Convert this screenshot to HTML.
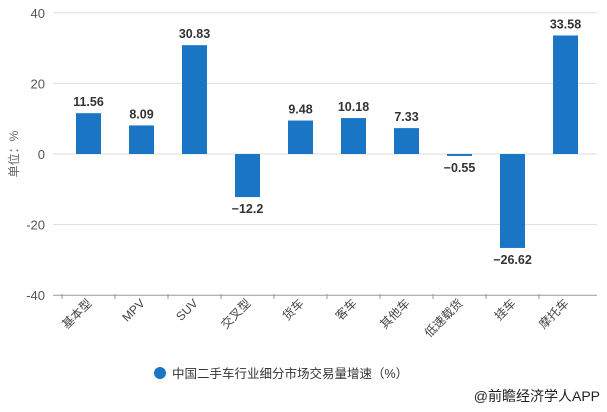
<!DOCTYPE html>
<html><head><meta charset="utf-8"><style>
body{margin:0;background:#fff;}
svg text{font-family:"Liberation Sans","Noto Sans CJK SC",sans-serif;}
</style></head><body>
<svg id="c" width="607" height="407"></svg>
<script>
const categories=["基本型","MPV","SUV","交叉型","货车","客车","其他车","低速载货","挂车","摩托车"];
const values=[11.56,8.09,30.83,-12.2,9.48,10.18,7.33,-0.55,-26.62,33.58];
const labels=["11.56","8.09","30.83","−12.2","9.48","10.18","7.33","−0.55","−26.62","33.58"];
const ticks=[40,20,0,-20,-40];
const NS="http://www.w3.org/2000/svg",svg=document.getElementById('c');
const y=v=>154-v*3.53, cx=i=>88.5+53*i;
function el(t,a,txt){const e=document.createElementNS(NS,t);for(const k in a)e.setAttribute(k,a[k]);if(txt!==undefined)e.textContent=txt;svg.appendChild(e);return e;}
ticks.forEach(t=>{
 const g=el('line',{x1:53,x2:597,y1:y(t),y2:y(t),stroke:t==-40?'#999':'#ddd','stroke-width':1});
 
 
 const l=el('text',{x:45,y:y(t)+5,'text-anchor':'end','font-size':13,fill:'#555'},String(t));
 
 
});
const yt=el('text',{x:0,y:0,transform:'translate(18,154) rotate(-90)','text-anchor':'middle','font-size':12,fill:'#666'},'单位：%');


categories.forEach((c,i)=>{
 const v=values[i],x=cx(i);
 const r=el('rect',{x:x-12.5,y:Math.min(y(v),y(0)),width:25,height:Math.abs(y(v)-y(0)),fill:'#1a76c4'});
 
 
 const ly=v>=0?y(v)-7:y(v)+16;
 const t=el('text',{x:x,y:ly,'text-anchor':'middle','font-size':12.5,'font-weight':'bold',fill:'#333'},labels[i]);
 
 
 const tk=el('line',{x1:x-26.5,x2:x-26.5,y1:294,y2:299,stroke:'#999'});
 
 
 const xl=el('text',{x:0,y:0,transform:`translate(${x+4},304) rotate(-45)`,'text-anchor':'end','font-size':12,fill:'#444'},c);
 
 
});
const lc=el('circle',{cx:160,cy:373,r:6,fill:'#1a76c4'});


const lt=el('text',{x:172,y:378,'font-size':12.5,fill:'#333'},'中国二手车行业细分市场交易量增速（%）');


const src=el('text',{x:600,y:401,'text-anchor':'end','font-size':14,fill:'#222'},'@前瞻经济学人APP');


</script>
</body></html>
